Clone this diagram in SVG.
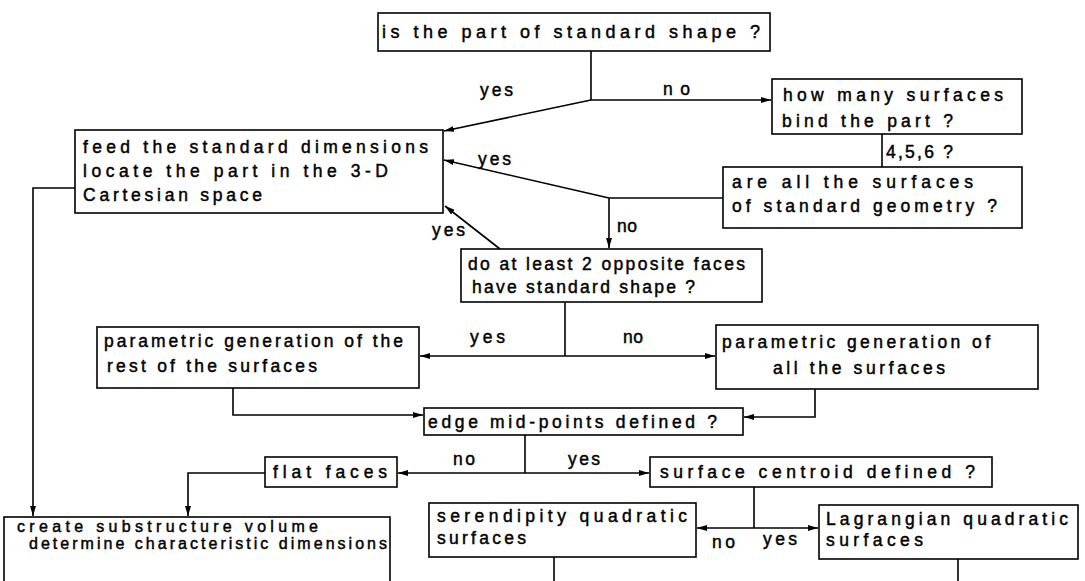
<svg xmlns="http://www.w3.org/2000/svg" width="1085" height="581" viewBox="0 0 1085 581">
<style>
.box{fill:#fff;stroke:#000;stroke-width:1.6}
.t{font-family:"Liberation Sans",Arial,sans-serif;font-size:17.5px;fill:#000;stroke:#000;stroke-width:0.45}
.s{font-size:16px}
.ln{fill:none;stroke:#000;stroke-width:1.6}
.ar{fill:none;stroke:#000;stroke-width:1.6;marker-end:url(#ah)}
</style>
<defs>
<marker id="ah" markerUnits="userSpaceOnUse" markerWidth="11" markerHeight="6" refX="10" refY="3" orient="auto">
<path d="M0,0 L10,3 L0,6 z" fill="#000"/>
</marker>
</defs>
<rect width="1085" height="581" fill="#fff"/>

<g id="connectors">
<path class="ln" d="M591,51 V100"/>
<path class="ar" d="M591,100 H771"/>
<path class="ar" d="M591,100 L444,131"/>
<path class="ln" d="M882,134 V167"/>
<path class="ln" d="M723,198 H609"/>
<path class="ar" d="M609,198 L444,160"/>
<path class="ar" d="M609,198 V248"/>
<path class="ar" d="M500,249 L445,206"/>
<path class="ln" d="M565,302 V356"/>
<path class="ar" d="M565,356 H420"/>
<path class="ar" d="M565,356 H715"/>
<path class="ar" d="M233,388 V415 H423"/>
<path class="ar" d="M815,389 V417 H744"/>
<path class="ln" d="M525,435 V473"/>
<path class="ar" d="M525,473 H398"/>
<path class="ar" d="M525,473 H649"/>
<path class="ar" d="M265,473 H188 V516"/>
<path class="ar" d="M75,188 H33 V516"/>
<path class="ln" d="M754,487 V528"/>
<path class="ar" d="M754,528 H697"/>
<path class="ar" d="M754,528 H818"/>
<path class="ln" d="M554,557 V581"/>
<path class="ln" d="M958,559 V581"/>
</g>

<g id="labels">
<text class="t" x="480" y="96" textLength="33" lengthAdjust="spacing">yes</text>
<text class="t" x="663" y="95" textLength="27" lengthAdjust="spacing">no</text>
<text class="t" x="478" y="165" textLength="33" lengthAdjust="spacing">yes</text>
<text class="t" x="432" y="236" textLength="33" lengthAdjust="spacing">yes</text>
<text class="t" x="617" y="232" textLength="20" lengthAdjust="spacing">no</text>
<text class="t" x="886" y="158" textLength="67" lengthAdjust="spacing">4,5,6 ?</text>
<text class="t" x="470" y="343" textLength="35" lengthAdjust="spacing">yes</text>
<text class="t" x="623" y="343" textLength="20" lengthAdjust="spacing">no</text>
<text class="t" x="453" y="465" textLength="22" lengthAdjust="spacing">no</text>
<text class="t" x="568" y="465" textLength="32" lengthAdjust="spacing">yes</text>
<text class="t" x="712" y="548" textLength="23" lengthAdjust="spacing">no</text>
<text class="t" x="763" y="545" textLength="34" lengthAdjust="spacing">yes</text>
</g>

<g id="n-standard-shape">
<rect class="box" x="378" y="13" width="392" height="38"/>
<text class="t" x="382" y="38" style="font-size:18px" textLength="378" lengthAdjust="spacing">is the part of standard shape ?</text>
</g>

<g id="n-feed">
<rect class="box" x="75" y="130" width="368" height="83"/>
<text class="t" x="83" y="153" textLength="345" lengthAdjust="spacing">feed the standard dimensions</text>
<text class="t" x="83" y="177" textLength="305" lengthAdjust="spacing">locate the part in the 3-D</text>
<text class="t" x="83" y="201" textLength="179" lengthAdjust="spacing">Cartesian space</text>
</g>

<g id="n-how-many">
<rect class="box" x="772" y="79" width="250" height="55"/>
<text class="t" x="783" y="101" textLength="220" lengthAdjust="spacing">how many surfaces</text>
<text class="t" x="782" y="127" textLength="171" lengthAdjust="spacing">bind the part ?</text>
</g>

<g id="n-are-all">
<rect class="box" x="723" y="167" width="299" height="61"/>
<text class="t" x="732" y="188" textLength="241" lengthAdjust="spacing">are all the surfaces</text>
<text class="t" x="732" y="212" textLength="265" lengthAdjust="spacing">of standard geometry ?</text>
</g>

<g id="n-opposite-faces">
<rect class="box" x="461" y="249" width="301" height="53"/>
<text class="t" x="468" y="270" textLength="277" lengthAdjust="spacing">do at least 2 opposite faces</text>
<text class="t" x="472" y="293" textLength="223" lengthAdjust="spacing">have standard shape ?</text>
</g>

<g id="n-param-rest">
<rect class="box" x="97" y="327" width="322" height="61"/>
<text class="t" x="104" y="347" textLength="299" lengthAdjust="spacing">parametric generation of the</text>
<text class="t" x="107" y="372" textLength="210" lengthAdjust="spacing">rest of the surfaces</text>
</g>

<g id="n-param-all">
<rect class="box" x="716" y="325" width="322" height="64"/>
<text class="t" x="722" y="348" textLength="268" lengthAdjust="spacing">parametric generation of</text>
<text class="t" x="773" y="374" textLength="172" lengthAdjust="spacing">all the surfaces</text>
</g>

<g id="n-edge">
<rect class="box" x="424" y="408" width="319" height="27"/>
<text class="t" x="428" y="428" textLength="289" lengthAdjust="spacing">edge mid-points defined ?</text>
</g>

<g id="n-flat">
<rect class="box" x="265" y="457" width="132" height="30"/>
<text class="t" x="273" y="478" textLength="114" lengthAdjust="spacing">flat faces</text>
</g>

<g id="n-centroid">
<rect class="box" x="650" y="457" width="342" height="30"/>
<text class="t" x="660" y="478" textLength="315" lengthAdjust="spacing">surface centroid defined ?</text>
</g>

<g id="n-serendipity">
<rect class="box" x="429" y="503" width="267" height="54"/>
<text class="t" x="437" y="522" textLength="250" lengthAdjust="spacing">serendipity quadratic</text>
<text class="t" x="437" y="544" textLength="89" lengthAdjust="spacing">surfaces</text>
</g>

<g id="n-lagrangian">
<rect class="box" x="819" y="505" width="259" height="54"/>
<text class="t" x="826" y="525" textLength="242" lengthAdjust="spacing">Lagrangian quadratic</text>
<text class="t" x="826" y="546" textLength="97" lengthAdjust="spacing">surfaces</text>
</g>

<g id="n-substructure">
<rect class="box" x="4" y="517" width="386" height="70"/>
<text class="t s" x="17" y="532" textLength="301" lengthAdjust="spacing">create substructure volume</text>
<text class="t s" x="29" y="549" textLength="358" lengthAdjust="spacing">determine characteristic dimensions</text>
</g>
</svg>
